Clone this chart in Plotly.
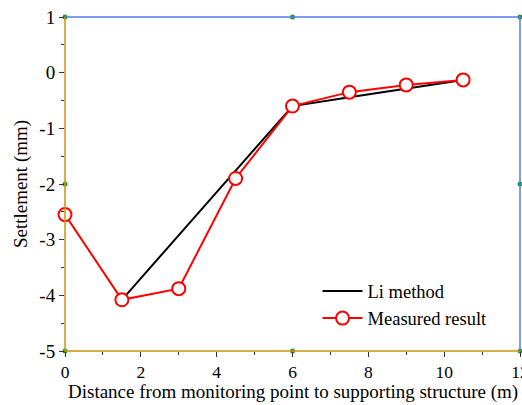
import plotly.graph_objects as go

# Settlement profile data
distance = [0, 1.5, 3, 4.5, 6, 7.5, 9, 10.5]
measured = [-2.55, -4.08, -3.88, -1.90, -0.60, -0.35, -0.22, -0.13]

li_distance = [1.5, 3, 4.5, 6, 7.5, 9, 10.5]
li_values = [-4.08, -2.92, -1.76, -0.60, -0.44, -0.28, -0.13]

# Tick labels
x_ticks = [0, 2, 4, 6, 8, 10, 12]
y_ticks = [1, 0, -1, -2, -3, -4, -5]
y_labels = ["1", "0", "-1", "-2", "-3", "-4", "-5"]

# Axis frame nodes
node_x = [0, 6, 12, 0, 12, 0, 6, 12]
node_y = [1, 1, 1, -2, -2, -5, -5, -5]

FONT = "Times New Roman, Liberation Serif, DejaVu Serif, serif"

fig = go.Figure()

fig.add_trace(go.Scatter(
    x=li_distance, y=li_values, mode="lines", name="Li method",
    line=dict(color="black", width=2),
))
fig.add_trace(go.Scatter(
    x=distance, y=measured, mode="lines+markers", name="Measured result",
    line=dict(color="red", width=2),
    marker=dict(symbol="circle", size=13, color="white",
                line=dict(color="red", width=2)),
    cliponaxis=False,
))

# frame lines: left/bottom golden, top/right blue
fig.add_shape(type="line", xref="paper", yref="paper", x0=0, x1=0, y0=0, y1=1,
              line=dict(color="#c8960a", width=1.5))
fig.add_shape(type="line", xref="paper", yref="paper", x0=0, x1=1, y0=0, y1=0,
              line=dict(color="#c8960a", width=1.5))
fig.add_shape(type="line", xref="paper", yref="paper", x0=0, x1=1, y0=1, y1=1,
              line=dict(color="#4f7fe6", width=1.5))
fig.add_shape(type="line", xref="paper", yref="paper", x0=1, x1=1, y0=0, y1=1,
              line=dict(color="#4f7fe6", width=1.5))

fig.add_trace(go.Scatter(
    x=node_x, y=node_y, mode="markers", showlegend=False, hoverinfo="skip",
    marker=dict(size=5, color="#1f9a2a"), cliponaxis=False,
))

fig.update_xaxes(
    range=[0, 12], tickvals=x_ticks,
    ticks="outside", ticklen=5, tickwidth=1, tickcolor="#333",
    minor=dict(tickvals=[1, 3, 5, 7, 9, 11], ticks="outside", ticklen=3,
               tickcolor="#333"),
    showgrid=False, zeroline=False, showline=False,
    ticklabeloverflow="allow", automargin=False,
    tickfont=dict(family=FONT, size=17.5, color="black"),
)
fig.update_yaxes(
    range=[-5, 1], tickvals=y_ticks, ticktext=y_labels,
    ticks="outside", ticklen=5, tickwidth=1, tickcolor="#333",
    minor=dict(tickvals=[0.5, -0.5, -1.5, -2.5, -3.5, -4.5], ticks="outside",
               ticklen=3, tickcolor="#333"),
    showgrid=False, zeroline=False, showline=False, automargin=False,
    tickfont=dict(family=FONT, size=19, color="black"),
    title=dict(text="Settlement (mm)", font=dict(family=FONT, size=19, color="black"),
               standoff=6),
)

# x-axis title placed just below the tick labels
fig.add_annotation(
    text="Distance from monitoring point to supporting structure (m)",
    xref="paper", yref="paper", x=0.5, y=0, xanchor="center", yanchor="top",
    yshift=-28, showarrow=False,
    font=dict(family=FONT, size=19, color="black"),
)

fig.update_layout(
    width=522, height=405,
    margin=dict(l=65, r=2, t=17, b=54),
    paper_bgcolor="white", plot_bgcolor="white",
    showlegend=True,
    legend=dict(x=0.555, y=0.235, xanchor="left", yanchor="top",
                bgcolor="rgba(0,0,0,0)",
                font=dict(family=FONT, size=18.5, color="black"),
                tracegroupgap=0, itemwidth=40),
)

fig.write_html("out.html")
